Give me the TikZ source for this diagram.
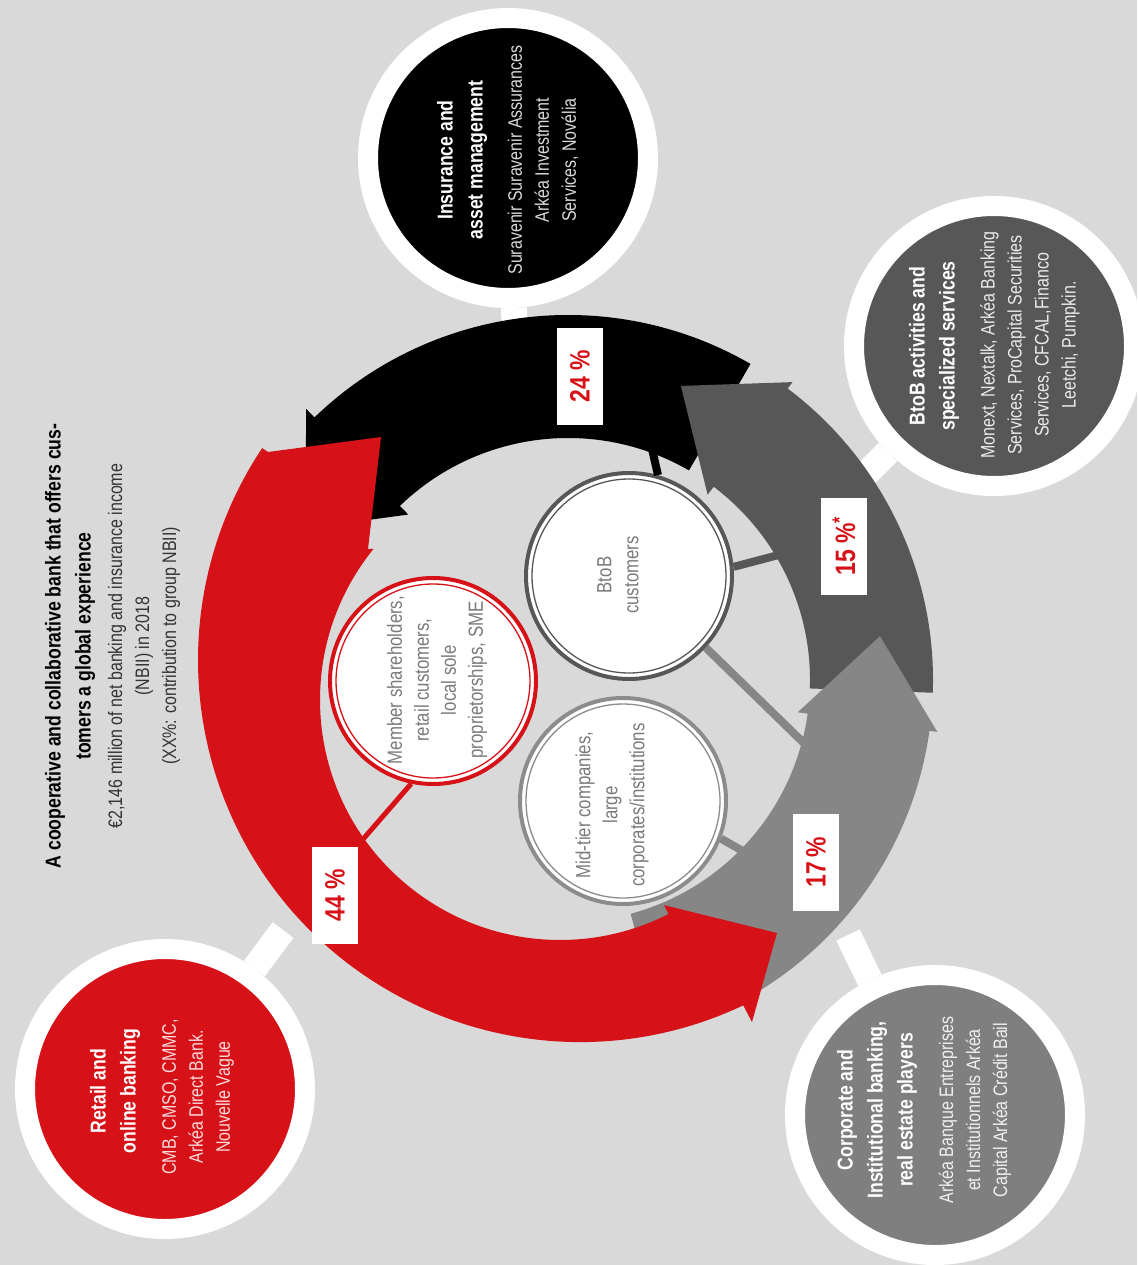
\documentclass[tikz,border=0pt]{standalone}
\usepackage{fontspec}
\setmainfont{Liberation Sans}[FakeStretch=0.82]
\usetikzlibrary{calc}
\definecolor{bg}{HTML}{D9D9D9}
\definecolor{ared}{HTML}{D61118}
\definecolor{dgrey}{HTML}{575757}
\definecolor{lgrey}{HTML}{868686}
\definecolor{cgrey}{HTML}{7F7F7F}
\definecolor{txtgrey}{HTML}{7A7A7A}
\begin{document}
\begin{tikzpicture}[x=1pt,y=-1pt,
  outer/.style={circle, draw=white, line width=20, minimum size=280, inner sep=0},
  incirc/.style={circle, fill=white, line width=4, minimum size=206, inner sep=0},
  btitle/.style={rotate=90, align=center, font=\bfseries\fontsize{21.5}{30}\selectfont},
  bbody/.style={rotate=90, align=center, font=\fontsize{19.5}{27}\selectfont},
  ibody/.style={rotate=90, align=center, font=\fontsize{20.5}{27}\selectfont, text=txtgrey},
  pct/.style={rotate=90, fill=white, minimum width=97, minimum height=46, inner sep=0, text=ared, font=\bfseries\fontsize{28}{30}\selectfont},
  stub/.style={white, line width=26},
  link/.style={line width=8}
]
\fill[bg] (0,0) rectangle (1137,1265);
\useasboundingbox (0,0) rectangle (1137,1265);
\coordinate (C) at (568,680);
\coordinate (Ci) at (560,700);
\coordinate (Co) at (580,660);

% title
\node[btitle] (title) at (70,646) {A cooperative and collaborative bank that offers cus-\\tomers a global experience};
\node[bbody, text=black!80] (sub) at (144,646) {€2,146 million of net banking and insurance income\\(NBII) in 2018\\(XX\%: contribution to group NBII)};

% outer circles
\node[outer, fill=black] (ins) at (508,158) {};
\node[outer, fill=dgrey] (bob) at (994,346) {};
\node[outer, fill=cgrey] (cor) at (935,1115) {};
\node[outer, fill=ared] (ret) at (165,1089) {};

\coordinate (insL) at (515,335);
\coordinate (bobL) at (862,478);
\coordinate (corL) at (848,935);
\coordinate (retL) at (283,930);
\draw[stub] (ins) -- (insL);
\draw[stub] (bob) -- (bobL);
\draw[stub] (cor) -- (corL);
\draw[stub] (ret) -- (retL);

\node[btitle, text=white] (ins-t) at (462,160) {Insurance and\\asset management};
\node[bbody, text=white!85!black] (ins-b) at (543,160) {Suravenir Suravenir Assurances\\Arkéa Investment\\Services, Novélia};
\node[btitle, text=white] (bob-t) at (934,346) {BtoB activities and\\specialized services};
\node[bbody, text=white!88!dgrey] (bob-b) at (1030,345) {Monext, Nextalk, Arkéa Banking\\Services, ProCapital Securities\\Services, CFCAL,Financo\\Leetchi, Pumpkin.};
\node[btitle, text=white] (cor-t) at (877,1110) {Corporate and\\Institutional banking,\\real estate players};
\node[bbody, text=white!88!cgrey] (cor-b) at (975,1110) {Arkéa Banque Entreprises\\et Institutionnels Arkéa\\Capital Arkéa Crédit Bail};
\node[btitle, text=white] (ret-t) at (115,1091) {Retail and\\online banking};
\node[bbody, text=white!85!ared] (ret-b) at (198,1097) {CMB, CMSO, CMMC,\\Arkéa Direct Bank.\\Nouvelle Vague};

% ring arrows
\fill[black] ($(C)+(-60:242)$) arc[start angle=-60, end angle=-134, radius=242]
  -- ($(C)+(-134:230)$) -- ($(C)+(-150:303)$) -- ($(C)+(-134:377)$) -- ($(C)+(-134:365)$)
  arc[start angle=-134, end angle=-60, radius=365] -- cycle;
\fill[dgrey] ($(C)+(2:242)$) arc[start angle=2, end angle=-53, radius=242]
  -- ($(C)+(-53:232)$) -- ($(C)+(-69:315)$) -- ($(C)+(-53:373)$) -- ($(C)+(-53:365)$)
  arc[start angle=-53, end angle=2, radius=365] -- cycle;
\fill[lgrey] ($(C)+(75:242)$) arc[start angle=75, end angle=8, radius=242]
  -- ($(C)+(8:232)$) -- ($(C)+(-8:315)$) -- ($(C)+(8:373)$) -- ($(C)+(8:365)$)
  arc[start angle=8, end angle=75, radius=365] -- cycle;
\fill[ared] ($(Ci)+(-141:240)$) arc[start angle=-141, end angle=-296.9, radius=240]
  -- ($(Ci)+(-296.9:230)$) -- (777,933) -- (752,1022) -- ($(Co)+(-295.3:382)$)
  arc[start angle=-295.3, end angle=-146.3, radius=382]
  -- (268,452) -- (381,437) -- (368,549) -- cycle;

% percentages
\node[pct] (p24) at (580,376) {24 \%};
\node[pct] (p15) at (844,546) {15 \%\textsuperscript{*}};
\node[pct] (p17) at (816,862) {17\,\%};
\node[pct] (p44) at (335,895) {44 \%};

% inner circles
\node[incirc, draw=ared] (mem) at (433,681) {};
\node[incirc, draw=dgrey] (btc) at (629,576) {};
\node[incirc, draw=gray!90] (mid) at (623,801) {};
\draw[ared, line width=1.3] (mem.center) circle[radius=97];
\draw[dgrey, line width=1.3] (btc.center) circle[radius=97];
\draw[gray!90, line width=1.3] (mid.center) circle[radius=97];

\coordinate (memL) at (358,845);
\coordinate (btcK) at (650,440);
\coordinate (btcD) at (790,552);
\coordinate (btcG) at (812,751);
\coordinate (midG) at (755,858);
\draw[ared, line width=5] (mem.258) -- (memL);
\draw[link, black] (btc.74) -- (btcK);
\draw[link, dgrey] (btc.5) -- (btcD);
\draw[link, lgrey] (btc.-43) -- (btcG);
\draw[link, lgrey] (mid.-21) -- (midG);

\node[ibody] (mem-t) at (437,680) {Member shareholders,\\retail customers,\\local sole\\proprietorships, SME};
\node[ibody] (btc-t) at (618,575) {BtoB\\customers};
\node[ibody] (mid-t) at (612,805) {Mid-tier companies,\\large\\corporates/institutions};
\end{tikzpicture}
\end{document}
